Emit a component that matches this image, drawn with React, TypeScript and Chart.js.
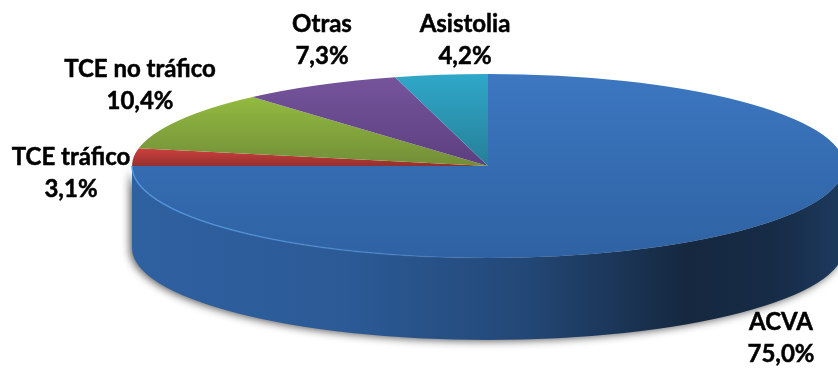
import React, { useEffect, useRef } from "react";
import { Chart, registerables } from "chart.js";

Chart.register(...registerables);

const categories = ["ACVA", "TCE tráfico", "TCE no tráfico", "Otras", "Asistolia"];
const values = [75.0, 3.1, 10.4, 7.3, 4.2];
const topColors = ["#3c77c0", "#cf403d", "#93ba40", "#75549b", "#2fa8c9"];
const bottomColors = ["#2e62a3", "#93302e", "#728e38", "#5c3f80", "#267f98"];
const labelCenters = [
  [781, 330],
  [71, 165],
  [140, 77],
  [322, 32],
  [465, 32],
];

const WIDTH = 838;
const HEIGHT = 370;
const CX = 488;
const CY = 166;
const RX = 356;
const RY = 92;
const DEPTH = 82;
const LINE = 32;

function wallPath(ctx: CanvasRenderingContext2D) {
  ctx.beginPath();
  ctx.ellipse(CX, CY, RX, RY, 0, Math.PI, 0, true);
  ctx.lineTo(CX + RX, CY + DEPTH);
  ctx.ellipse(CX, CY + DEPTH, RX, RY, 0, 0, Math.PI, false);
  ctx.closePath();
}

const pie3d = {
  id: "pie3d",
  beforeDatasetsDraw(chart: any) {
    const ctx: CanvasRenderingContext2D = chart.ctx;
    const arc = chart.getDatasetMeta(0).data[0];
    const R = arc.outerRadius;

    ctx.save();
    const wall = ctx.createLinearGradient(CX - RX, 0, CX + RX, 0);
    wall.addColorStop(0, "#2f60a0");
    wall.addColorStop(0.3, "#2b5a96");
    wall.addColorStop(0.55, "#234877");
    wall.addColorStop(0.78, "#15283f");
    wall.addColorStop(0.9, "#162b46");
    wall.addColorStop(1, "#1d3a5e");
    ctx.shadowColor = "rgba(0,0,0,0.65)";
    ctx.shadowBlur = 8;
    ctx.shadowOffsetX = -2;
    ctx.shadowOffsetY = 1;
    ctx.fillStyle = wall;
    wallPath(ctx);
    ctx.fill();
    ctx.restore();

    ctx.save();
    ctx.translate(CX, CY);
    ctx.scale(RX / R, RY / R);
    ctx.translate(-arc.x, -arc.y);
  },
  afterDatasetsDraw(chart: any) {
    const ctx: CanvasRenderingContext2D = chart.ctx;
    ctx.restore();

    ctx.save();
    const glow = ctx.createLinearGradient(CX - RX, 0, CX, 0);
    glow.addColorStop(0, "rgba(84,150,222,0.95)");
    glow.addColorStop(0.7, "rgba(84,150,222,0.5)");
    glow.addColorStop(1, "rgba(84,150,222,0)");
    ctx.strokeStyle = glow;
    ctx.lineWidth = 1.5;
    ctx.beginPath();
    ctx.ellipse(CX, CY, RX, RY, 0, Math.PI, Math.PI / 2, true);
    ctx.stroke();
    ctx.restore();

    ctx.save();
    ctx.fillStyle = "#000000";
    ctx.strokeStyle = "#000000";
    ctx.lineWidth = 0.5;
    ctx.font = 'bold 24px Lato, "Open Sans", sans-serif';
    ctx.textAlign = "center";
    ctx.textBaseline = "alphabetic";
    categories.forEach((name, i) => {
      const [x, y] = labelCenters[i];
      const pct = values[i].toFixed(1).replace(".", ",") + "%";
      ctx.fillText(name, x, y);
      ctx.strokeText(name, x, y);
      ctx.fillText(pct, x, y + LINE);
      ctx.strokeText(pct, x, y + LINE);
    });
    ctx.restore();
  },
};

export default function App() {
  const ref = useRef<HTMLCanvasElement | null>(null);

  useEffect(() => {
    document.body.style.margin = "0";
    document.body.style.background = "#ffffff";
    const canvas = ref.current!;
    const ctx = canvas.getContext("2d")!;
    const total = values.reduce((a, b) => a + b, 0);
    let running = 0;
    const fills = categories.map((_, i) => {
      const a = (running / total) * 2 * Math.PI;
      running += values[i];
      const b = (running / total) * 2 * Math.PI;
      const half = HEIGHT / 2;
      const start = half - half * Math.max(Math.cos(a), Math.cos(b));
      const g = ctx.createLinearGradient(0, start, 0, i === 0 ? HEIGHT : half);
      g.addColorStop(0, topColors[i]);
      g.addColorStop(1, bottomColors[i]);
      return g;
    });
    const chart = new Chart(canvas, {
      type: "pie",
      data: {
        labels: categories,
        datasets: [{ data: values, backgroundColor: fills, borderWidth: 0, clip: false } as any],
      },
      options: {
        responsive: false,
        animation: false,
        rotation: 0,
        layout: { padding: 0 },
        plugins: { legend: { display: false }, tooltip: { enabled: false } },
      },
      plugins: [pie3d],
    });
    return () => chart.destroy();
  }, []);

  return (
    <canvas
      ref={ref}
      width={WIDTH}
      height={HEIGHT}
      style={{ display: "block", width: WIDTH, height: HEIGHT }}
    />
  );
}
